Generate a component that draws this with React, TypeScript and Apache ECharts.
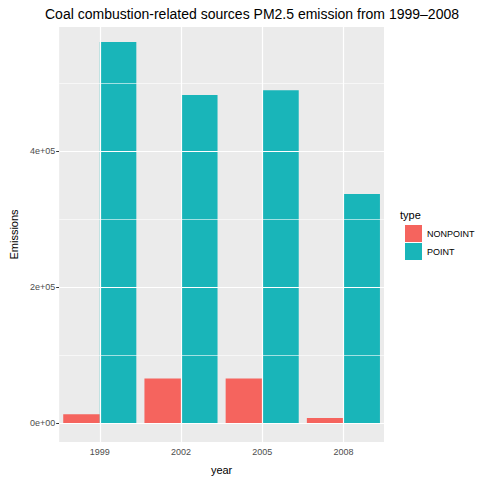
import React, { useEffect, useRef } from "react";
import * as echarts from "echarts";

const years = ["1999", "2002", "2005", "2008"];
const nonpoint = [13000, 65500, 65500, 7300];
const point = [561000, 483000, 490000, 337000];
const majorTicks = [0, 200000, 400000];
const minorTicks = [100000, 300000, 500000];
const tickLabels = ["0e+00", "2e+05", "4e+05"];

export default function App() {
  const ref = useRef<HTMLDivElement>(null);
  useEffect(() => {
    const chart = echarts.init(ref.current!, null, { renderer: "svg" });
    const font = "Liberation Sans";
    chart.setOption({
      animation: false,
      textStyle: { fontFamily: font },
      title: {
        text: "Coal combustion-related sources PM2.5 emission from 1999\u20132008",
        left: 40, top: 2,
        textStyle: { fontSize: 14, fontWeight: "normal", color: "#000", fontFamily: font },
      },
      grid: { left: 48, right: 96, top: 27, bottom: 28, show: true, backgroundColor: "#EBEBEB", borderWidth: 0 },
      legend: {
        orient: "vertical", left: 400, top: 220, itemWidth: 17, itemHeight: 17, itemGap: 1,
        icon: "rect", textStyle: { fontSize: 9, color: "#000" },
        data: ["NONPOINT", "POINT"],
      },
      graphic: [
        { type: "text", left: 400, top: 209, style: { text: "type", fontSize: 11, fill: "#000", fontFamily: font } },
      ],
      xAxis: {
        type: "category", data: years, name: "year", nameLocation: "middle", nameGap: 22,
        nameTextStyle: { fontSize: 11, color: "#000" },
        axisLine: { show: false },
        axisTick: { alignWithLabel: true, length: 3, lineStyle: { color: "#333" } },
        axisLabel: { fontSize: 9, color: "#4D4D4D", margin: 5 },
        splitLine: { show: false },
      },
      yAxis: {
        type: "value", min: -28000, max: 583000,
        name: "Emissions", nameLocation: "middle", nameGap: 36,
        nameTextStyle: { fontSize: 11, color: "#000" },
        axisLine: { show: false },
        axisTick: { show: true, customValues: majorTicks, length: 3, lineStyle: { color: "#333" } },
        axisLabel: {
          customValues: majorTicks, fontSize: 9, color: "#4D4D4D", margin: 4,
          formatter: (v: number) => tickLabels[majorTicks.indexOf(v)] ?? "",
        },
        splitLine: { show: false },
      },
      series: [
        {
          type: "line", data: [], z: 1, silent: true,
          markLine: {
            silent: true, symbol: "none", label: { show: false }, animation: false,
            data: [
              ...majorTicks.map((v) => ({ yAxis: v, lineStyle: { color: "#fff", width: 1.2, type: "solid" } })),
              ...minorTicks.map((v) => ({ yAxis: v, lineStyle: { color: "#fff", width: 0.6, type: "solid" } })),
              ...years.map((y) => ({ xAxis: y, lineStyle: { color: "#fff", width: 1.2, type: "solid" } })),
            ],
          },
        },
        { name: "NONPOINT", type: "bar", data: nonpoint, barCategoryGap: "10%", barGap: "0%", itemStyle: { color: "#F5645E" }, z: 3 },
        { name: "POINT", type: "bar", data: point, barCategoryGap: "10%", barGap: "0%", itemStyle: { color: "#19B5B9" }, z: 3 },
      ],
    });
    return () => chart.dispose();
  }, []);
  return <div ref={ref} style={{ position: "absolute", left: 0, top: 0, width: 480, height: 480, background: "#fff" }} />;
}
